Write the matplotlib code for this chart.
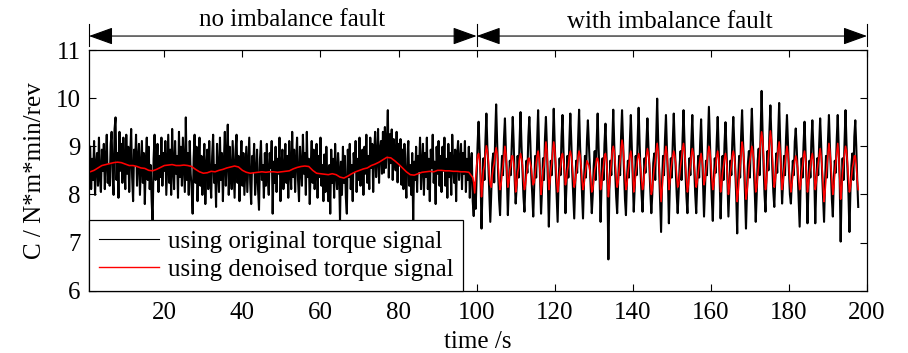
import numpy as np
import matplotlib
matplotlib.use('Agg')
import matplotlib.pyplot as plt
import matplotlib.transforms as mtransforms

plt.rcParams['font.family'] = ['Liberation Serif', 'DejaVu Serif']

# ---------------- data ----------------
dt = 0.25  # sampling step of the plotted series, s

# original torque-based C, no fault (t = 1.00 ... 99.75 s)
black_no_fault = [
    8.99, 8.11, 8.74, 8.3, 9.11, 7.99, 8.61, 8.86, 8.18, 9.18, 8.36, 8.05, 8.93, 8.49, 9.05, 8.11, 8.74, 9.24, 8.24, 8.61,
    8.18, 9.05, 9.3, 8.36, 7.99, 9.36, 9.6, 8.3, 8.86, 7.93, 9.3, 8.49, 9.05, 8.24, 9.18, 8.61, 8.11, 9.24, 8.43, 8.99,
    8.05, 8.8, 9.36, 8.36, 7.86, 8.93, 8.61, 9.24, 8.18, 8.74, 9.05, 7.99, 8.55, 9.11, 8.24, 8.86, 7.8, 8.68, 9.18, 8.3,
    8.99, 8.11, 8.61, 7.86, 7.4, 8.74, 9.24, 8.3, 8.55, 9.05, 8.05, 8.8, 8.36, 9.18, 8.18, 8.86, 8.49, 9.11, 7.99, 8.61,
    9.24, 8.24, 8.93, 7.99, 9.36, 8.55, 8.11, 9.11, 8.43, 8.8, 7.93, 9.3, 8.36, 8.99, 8.18, 9.18, 8.61, 8.05, 9.6, 8.3,
    8.86, 7.99, 9.11, 8.43, 8.11, 7.6, 8.74, 9.24, 8.24, 8.99, 7.86, 8.61, 9.18, 8.18, 8.8, 7.99, 8.49, 9.05, 7.8, 8.55,
    8.93, 8.11, 9.11, 8.36, 7.93, 8.8, 9.24, 8.24, 8.61, 7.74, 9.05, 8.49, 8.05, 9.18, 8.3, 8.86, 7.86, 8.68, 9.3, 8.18,
    8.74, 9.45, 7.99, 8.99, 8.43, 8.11, 9.11, 8.55, 7.93, 8.93, 9.24, 8.24, 8.8, 7.86, 8.61, 9.11, 8.18, 8.86, 7.99, 8.49,
    8.99, 8.05, 8.61, 9.18, 8.24, 7.8, 8.8, 8.49, 9.05, 7.99, 8.36, 8.93, 8.11, 7.68, 8.74, 9.11, 8.3, 8.61, 7.93, 8.86,
    8.18, 9.05, 8.36, 7.99, 8.86, 8.55, 9.11, 7.6, 8.68, 8.24, 8.99, 8.05, 8.74, 8.43, 9.18, 7.86, 8.61, 8.93, 8.11, 8.49,
    9.05, 8.24, 8.8, 7.93, 9.11, 8.49, 8.11, 9.3, 8.36, 8.93, 8.05, 8.68, 9.18, 8.3, 7.86, 8.99, 8.55, 8.18, 9.24, 8.43,
    8.86, 7.99, 9.3, 8.36, 8.74, 7.8, 8.61, 9.11, 8.24, 8.93, 8.11, 8.55, 9.05, 7.93, 8.8, 8.36, 9.18, 8.18, 8.61, 7.86,
    8.83, 8.05, 8.99, 8.3, 7.86, 8.61, 7.6, 8.93, 8.24, 8.74, 7.93, 9.05, 8.43, 8.11, 8.86, 8.49, 7.45, 8.68, 7.99, 8.99,
    8.24, 8.8, 7.93, 7.6, 8.93, 8.36, 9.05, 8.11, 8.61, 7.86, 8.86, 8.49, 9.11, 8.05, 8.74, 8.3, 9.18, 8.18, 8.61, 8.93,
    7.99, 8.99, 8.43, 9.24, 8.24, 8.8, 8.11, 9.18, 8.55, 9.05, 8.05, 8.86, 9.3, 8.36, 8.74, 9.36, 8.24, 8.93, 9.11, 8.43,
    9.3, 8.45, 9.4, 8.55, 9.05, 9.75, 8.35, 9.25, 8.65, 9.35, 8.3, 9.15, 8.8, 8.5, 9.3, 8.25, 9.05, 8.6, 9.15, 8.2,
    8.93, 8.11, 9.05, 8.36, 7.93, 8.74, 9.11, 8.18, 8.61, 7.99, 8.86, 7.45, 8.68, 8.3, 8.99, 8.05, 8.8, 8.49, 9.18, 8.11,
    8.61, 9.05, 7.99, 8.86, 8.36, 9.18, 8.11, 8.74, 7.86, 8.93, 8.55, 9.24, 8.24, 8.68, 7.8, 8.99, 8.43, 9.11, 8.18, 8.8,
    8.05, 8.99, 8.49, 9.18, 8.18, 8.74, 7.93, 9.05, 8.36, 8.86, 7.99, 9.24, 8.61, 8.24, 8.93, 7.86, 8.8, 9.11, 8.3, 8.68,
    9.05, 8.11, 8.86, 8.43, 9.11, 8.05, 8.74, 8.3, 8.99, 7.93, 8.61, 8.86, 7.86, 7.55, 8.24, 7.7,
]

# original torque-based C, with imbalance fault (t = 100.00 ... 197.75 s)
black_fault = [
    8.35, 9.05,
    9.51, 8.95, 8.4, 7.29, 8.1, 8.75, 8.3, 9.1,
    9.68, 9.0, 8.6, 8.0, 7.43, 8.05, 8.65, 8.85, 8.25, 9.2,
    9.87, 9.1, 8.45, 7.9, 7.57, 8.3, 8.8, 8.4, 9.15,
    9.58, 8.9, 8.35, 7.57, 8.2, 8.7, 8.4, 9.05,
    9.61, 9.05, 8.3, 7.81, 8.15, 8.8, 8.35, 9.1,
    9.71, 9.0, 8.5, 7.95, 7.64, 8.25, 8.7, 8.45, 9.2,
    9.61, 9.1, 8.4, 8.0, 7.54, 8.2, 8.8, 8.35, 9.1,
    9.75, 8.95, 8.35, 7.6, 8.1, 8.75, 8.3, 9.15,
    9.61, 9.0, 8.25, 7.33, 8.2, 8.7, 8.4, 9.05,
    9.78, 9.05, 8.5, 7.9, 7.43, 8.3, 8.75, 8.4, 9.2,
    9.65, 8.9, 8.4, 7.61, 8.15, 8.8, 8.35, 9.1,
    9.68, 9.1, 8.45, 8.0, 7.5, 8.2, 8.7, 8.45, 9.15,
    9.76, 9.0, 8.5, 7.95, 7.5, 8.25, 8.8, 8.35, 9.1,
    9.54, 9.05, 8.55, 8.05, 7.61, 8.0, 8.6, 8.9, 8.3, 9.1,
    9.68, 8.95, 8.35, 7.43, 8.2, 8.75, 8.3, 9.05,
    9.47, 8.9, 8.2, 6.65, 8.1, 8.7, 8.4, 9.1,
    9.76, 9.05, 8.45, 7.95, 7.61, 8.25, 8.8, 8.4, 9.2,
    9.75, 9.1, 8.5, 7.9, 7.57, 8.3, 8.7, 8.35, 9.1,
    9.65, 9.0, 8.3, 7.64, 8.15, 8.8, 8.4, 9.15,
    9.8, 9.05, 8.45, 8.0, 7.64, 8.2, 8.75, 8.45, 9.1,
    9.58, 9.0, 8.6, 8.05, 7.61, 8.0, 8.65, 8.85, 8.3, 9.2,
    9.99, 9.15, 8.5, 7.9, 7.22, 8.25, 8.8, 8.4, 9.15,
    9.65, 8.95, 8.35, 7.4, 8.2, 8.75, 8.35, 9.1,
    9.68, 9.05, 8.55, 8.0, 7.61, 8.05, 8.6, 8.9, 8.3, 9.15,
    9.75, 9.1, 8.45, 7.95, 7.61, 8.3, 8.75, 8.4, 9.1,
    9.65, 9.0, 8.5, 8.0, 7.61, 8.2, 8.8, 8.35, 9.05,
    9.56, 8.9, 8.3, 7.54, 8.15, 8.7, 8.4, 9.15,
    9.82, 9.1, 8.45, 7.9, 7.45, 8.25, 8.75, 8.45, 9.1,
    9.61, 9.0, 8.35, 7.5, 8.2, 8.8, 8.3, 9.05,
    9.5, 8.95, 8.3, 7.54, 8.1, 8.7, 8.4, 9.1,
    9.61, 9.05, 8.5, 7.95, 7.19, 8.3, 8.8, 8.35, 9.2,
    9.75, 9.1, 8.6, 8.0, 7.29, 8.05, 8.65, 8.9, 8.35, 9.2,
    9.78, 9.15, 8.55, 8.05, 7.43, 8.0, 8.7, 8.95, 8.4, 9.3,
    10.15, 9.3, 8.6, 8.0, 7.64, 8.35, 8.9, 8.5, 9.3,
    9.85, 9.2, 8.55, 8.05, 7.74, 8.3, 8.85, 8.45, 9.25,
    9.9, 9.1, 8.45, 7.81, 8.25, 8.8, 8.4, 9.15,
    9.65, 9.05, 8.5, 8.0, 7.81, 8.25, 8.7, 8.4, 9.1,
    9.37, 8.95, 8.4, 7.9, 7.33, 8.2, 8.75, 8.35, 9.05,
    9.51, 8.9, 8.3, 7.4, 8.15, 8.7, 8.35, 9.1,
    9.54, 9.0, 8.35, 7.4, 8.2, 8.75, 8.4, 9.05,
    9.58, 9.05, 8.45, 7.95, 7.43, 8.25, 8.8, 8.35, 9.1,
    9.65, 9.0, 8.5, 7.9, 7.54, 8.3, 8.7, 8.45, 9.15,
    9.65, 8.95, 8.3, 7.02, 8.1, 8.75, 8.3, 9.1,
    9.75, 9.05, 8.55, 8.0, 7.22, 8.05, 8.6, 8.85, 8.3, 9.2,
    9.54, 9.0, 8.3, 7.74,
]

# denoised torque-based C, no fault (t = 1 ... 99 s, step 1 s)
red_no_fault = [
    8.47, 8.50, 8.55, 8.60, 8.62, 8.64, 8.66, 8.67, 8.66, 8.63,
    8.60, 8.60, 8.58, 8.55, 8.54, 8.50, 8.49, 8.52, 8.56, 8.60,
    8.61, 8.62, 8.60, 8.60, 8.61, 8.60, 8.58, 8.52, 8.47, 8.44,
    8.45, 8.48, 8.47, 8.50, 8.52, 8.55, 8.57, 8.59, 8.57, 8.50,
    8.46, 8.44, 8.45, 8.46, 8.47, 8.46, 8.47, 8.47, 8.46, 8.47,
    8.48, 8.49, 8.53, 8.56, 8.58, 8.59, 8.58, 8.50, 8.44, 8.43,
    8.42, 8.41, 8.43, 8.41, 8.36, 8.34, 8.38, 8.43, 8.47, 8.50,
    8.53, 8.55, 8.60, 8.63, 8.67, 8.72, 8.77, 8.76, 8.70, 8.63,
    8.55, 8.47, 8.41, 8.40, 8.43, 8.46, 8.47, 8.48, 8.47, 8.50,
    8.50, 8.49, 8.49, 8.48, 8.48, 8.47, 8.47, 8.46, 8.35,
]
# transition at the fault onset (t = 99.25, 99.5, 99.75 s)
red_onset = [8.25, 8.03, 8.35]

# denoised torque-based C, with imbalance fault (t = 100.00 ... 197.75 s)
red_fault = [
    8.6, 8.8,
    8.85, 8.7, 8.4, 7.95, 8.2, 8.5, 8.6, 8.85,
    9.01, 8.9, 8.7, 8.4, 8.2, 8.15, 8.4, 8.55, 8.65, 8.85,
    8.97, 8.85, 8.6, 8.3, 8.1, 8.2, 8.45, 8.6, 8.8,
    9.0, 8.85, 8.5, 8.15, 8.25, 8.5, 8.6, 8.8,
    8.8, 8.65, 8.45, 8.05, 8.2, 8.45, 8.55, 8.75,
    8.85, 8.75, 8.6, 8.3, 8.1, 8.2, 8.4, 8.6, 8.75,
    8.75, 8.65, 8.55, 8.35, 8.2, 8.25, 8.45, 8.65, 8.8,
    8.9, 8.75, 8.45, 8.0, 8.2, 8.5, 8.6, 8.85,
    9.09, 8.9, 8.5, 8.1, 8.25, 8.5, 8.65, 8.9,
    9.09, 8.95, 8.65, 8.3, 8.05, 8.2, 8.45, 8.6, 8.8,
    8.85, 8.7, 8.5, 8.2, 8.3, 8.5, 8.6, 8.8,
    8.9, 8.8, 8.6, 8.35, 8.15, 8.25, 8.45, 8.6, 8.8,
    8.9, 8.8, 8.6, 8.3, 8.1, 8.2, 8.4, 8.55, 8.7,
    8.65, 8.6, 8.5, 8.3, 8.05, 8.1, 8.3, 8.5, 8.6, 8.75,
    8.75, 8.65, 8.45, 8.1, 8.2, 8.45, 8.6, 8.8,
    8.85, 8.7, 8.4, 7.95, 8.15, 8.45, 8.65, 8.9,
    9.0, 8.9, 8.65, 8.35, 8.15, 8.25, 8.5, 8.7, 8.95,
    9.13, 9.0, 8.7, 8.35, 8.1, 8.2, 8.45, 8.6, 8.8,
    8.9, 8.75, 8.45, 8.05, 8.2, 8.45, 8.6, 8.75,
    8.85, 8.75, 8.55, 8.3, 8.1, 8.2, 8.45, 8.6, 8.8,
    8.95, 8.85, 8.65, 8.3, 8.0, 8.1, 8.35, 8.55, 8.7, 8.9,
    9.06, 8.9, 8.6, 8.2, 7.85, 8.1, 8.4, 8.65, 8.85,
    9.0, 8.85, 8.5, 8.1, 8.25, 8.5, 8.65, 8.8,
    8.9, 8.8, 8.65, 8.4, 8.15, 8.2, 8.4, 8.6, 8.75, 8.95,
    9.06, 8.9, 8.6, 8.3, 8.05, 8.2, 8.45, 8.6, 8.8,
    8.95, 8.85, 8.6, 8.35, 8.15, 8.25, 8.45, 8.6, 8.75,
    8.85, 8.7, 8.5, 8.2, 8.3, 8.5, 8.65, 8.85,
    9.0, 8.9, 8.65, 8.35, 8.1, 8.2, 8.45, 8.6, 8.8,
    8.9, 8.75, 8.45, 8.05, 8.2, 8.45, 8.6, 8.75,
    8.85, 8.7, 8.4, 8.0, 8.15, 8.45, 8.6, 8.8,
    8.9, 8.8, 8.55, 8.2, 7.85, 8.05, 8.35, 8.6, 8.85,
    9.09, 8.95, 8.7, 8.3, 7.9, 8.05, 8.3, 8.55, 8.7, 8.85,
    9.0, 8.9, 8.7, 8.4, 8.05, 8.15, 8.4, 8.6, 8.85, 9.1,
    9.3, 9.15, 8.8, 8.4, 8.1, 8.25, 8.55, 8.8, 9.05,
    9.32, 9.15, 8.8, 8.45, 8.15, 8.3, 8.55, 8.75, 8.95,
    9.09, 8.9, 8.5, 8.1, 8.25, 8.5, 8.65, 8.85,
    9.0, 8.85, 8.6, 8.3, 8.05, 8.2, 8.4, 8.55, 8.7,
    8.8, 8.7, 8.55, 8.3, 8.1, 8.2, 8.45, 8.6, 8.8,
    8.9, 8.75, 8.45, 8.05, 8.2, 8.45, 8.6, 8.75,
    8.85, 8.7, 8.45, 8.1, 8.25, 8.5, 8.65, 8.8,
    8.95, 8.8, 8.55, 8.2, 7.85, 8.05, 8.35, 8.6, 8.85,
    9.06, 8.9, 8.6, 8.3, 8.0, 8.15, 8.45, 8.65, 8.85,
    9.06, 8.85, 8.4, 7.9, 8.1, 8.45, 8.65, 8.85,
    9.0, 8.9, 8.65, 8.35, 8.05, 8.15, 8.35, 8.55, 8.65, 8.8,
    8.8, 8.6, 8.3, 8.1,
]

x_ticks = [20, 40, 60, 80, 100, 120, 140, 160, 180, 200]
y_ticks = [6, 7, 8, 9, 10, 11]
label_black = 'using original torque signal'
label_red = 'using denoised torque signal'
segment_labels = ['no imbalance fault', 'with imbalance fault']
fault_onset = 100.0

# ---------------- time axes of the sampled series ----------------
t_b1 = 1.0 + dt * np.arange(len(black_no_fault))
t_b2 = fault_onset + dt * np.arange(len(black_fault))
t_black = np.concatenate([t_b1, t_b2])
c_black = np.array(black_no_fault + black_fault)

t_r1 = 1.0 + np.arange(len(red_no_fault))
t_r0 = 99.25 + dt * np.arange(len(red_onset))
t_r2 = fault_onset + dt * np.arange(len(red_fault))
t_red = np.concatenate([t_r1, t_r0, t_r2])
c_red = np.array(red_no_fault + red_onset + red_fault)

# ---------------- figure ----------------
W, H = 908, 353
fig = plt.figure(figsize=(W / 100, H / 100), dpi=100)
ax = fig.add_axes([89 / W, 1 - 290.7 / H, (867 - 89) / W, (290.7 - 50) / H])

FS = 18
l1, = ax.plot(t_black, c_black, color='k', lw=1.5, label=label_black)
l2, = ax.plot(t_red, c_red, color='#ff0000', lw=1.15, label=label_red)

ax.set_xlim(0.7, 200)
ax.set_ylim(6, 11)
ax.set_xticks(x_ticks)
ax.set_yticks(y_ticks)
ax.tick_params(direction='in', top=True, right=True, labeltop=False, labelright=False,
               length=5, width=0.8, labelsize=FS, pad=6)
ax.tick_params(axis='x', pad=8)
for s in ax.spines.values():
    s.set_linewidth(0.9)

ax.set_xlabel('time /s', fontsize=FS, labelpad=5)
ax.set_ylabel('C / N*m*min/rev', fontsize=FS, labelpad=7)

leg = ax.legend(handles=[l1, l2], loc='lower left', bbox_to_anchor=(0, 0),
                borderaxespad=0, fancybox=False, framealpha=1, edgecolor='k',
                fontsize=FS, handlelength=2.4, handletextpad=0.35,
                borderpad=0.4, labelspacing=0.22)
leg.get_frame().set_linewidth(0.9)
leg.legend_handles[0].set_linewidth(0.8)
leg.legend_handles[1].set_linewidth(1.0)

# ---------------- segment arrows above the axes ----------------
trans = mtransforms.blended_transform_factory(ax.transData, ax.transAxes)
y_arrow = 1.058
bounds = [0.7, fault_onset, 200]
for x0, x1 in [(bounds[0], bounds[1]), (bounds[1], bounds[2])]:
    ax.annotate('', xy=(x1, y_arrow), xytext=(x0, y_arrow),
                xycoords=trans, textcoords=trans, annotation_clip=False,
                arrowprops=dict(arrowstyle='<|-|>,head_length=0.75,head_width=0.27',
                                mutation_scale=20, color='k', lw=0.8,
                                shrinkA=0, shrinkB=0))
for xb in bounds:
    ax.plot([xb, xb], [1.017, 1.108], transform=trans, color='k', lw=0.8, clip_on=False)

ax.text(52.6, 1.10, segment_labels[0], transform=trans, ha='center', va='baseline', fontsize=FS)
ax.text(149.5, 1.09, segment_labels[1], transform=trans, ha='center', va='baseline', fontsize=FS)

fig.savefig('out.png', dpi=100)
